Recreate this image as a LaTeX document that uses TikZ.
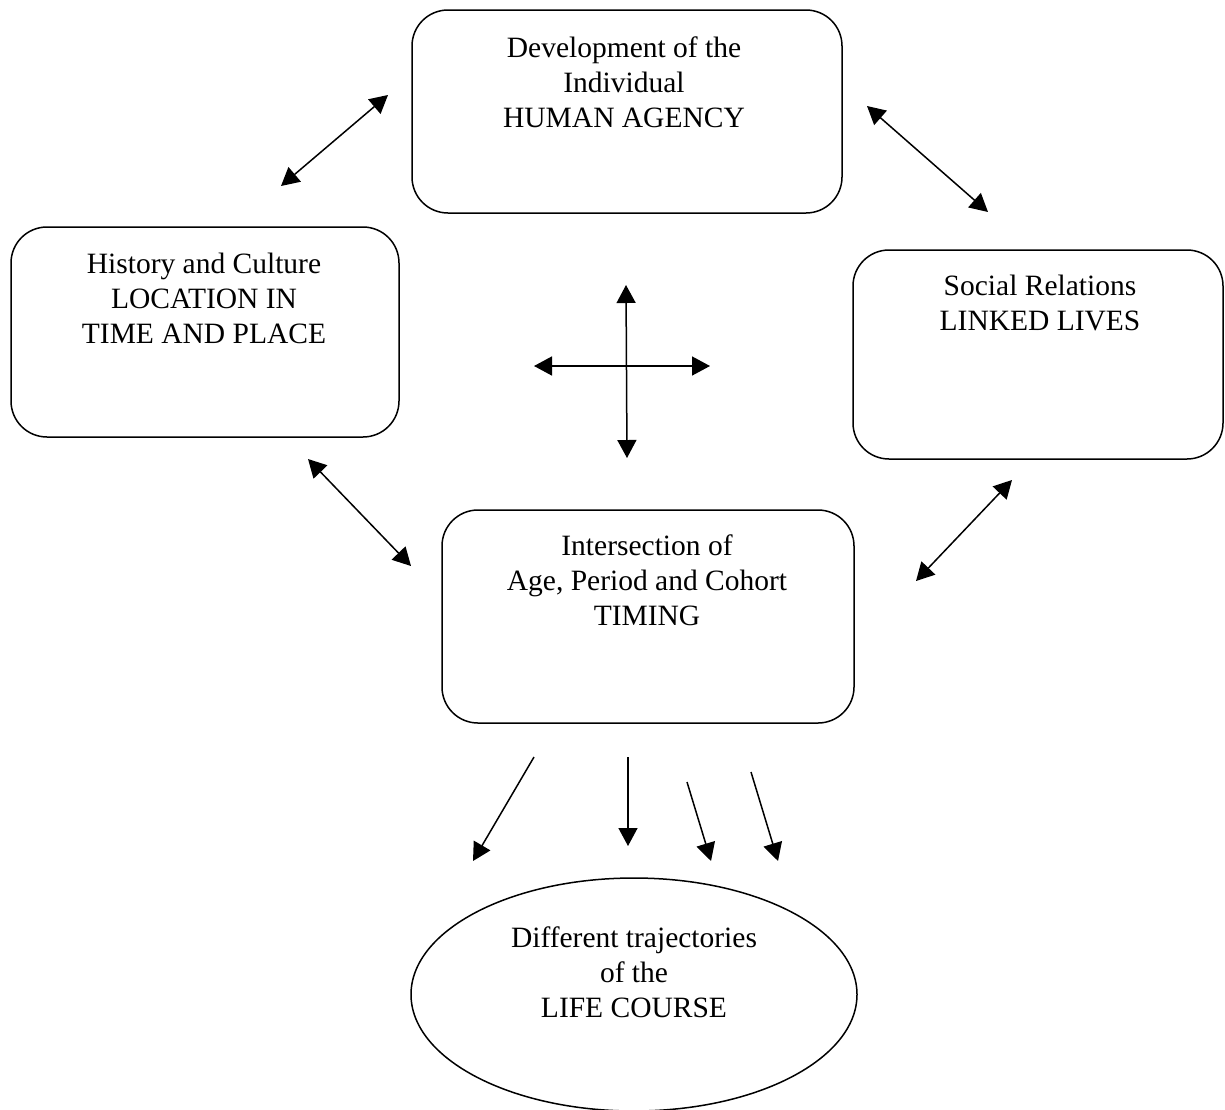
\documentclass[tikz,border=0pt]{standalone}
\usepackage{fontspec}
\setmainfont{Liberation Serif}
\usetikzlibrary{arrows.meta,shapes.geometric}
\begin{document}
\begin{tikzpicture}[x=1pt,y=-1pt,
  box/.style={draw, line width=1.5, rounded corners=36, inner sep=0, minimum width=#1},
  oval/.style={draw, line width=1.5, ellipse, inner sep=0},
  txt/.style={anchor=north, align=center, inner sep=0, font=\fontsize{29.5}{35}\selectfont},
  link/.style={line width=1.5, {Triangle[length=18,width=19]}-{Triangle[length=18,width=19]}},
  flow/.style={line width=1.5, -{Triangle[length=18,width=19]}}]
\useasboundingbox (0,0) rectangle (1225,1109);
\fill[white] (0,0) rectangle (1225,1109);
% boxes
\node[box=430, minimum height=203] (agency) at (627,111.5) {};
\node[box=388, minimum height=210] (history) at (205,332) {};
\node[box=370, minimum height=209] (social) at (1038,354.5) {};
\node[box=412, minimum height=213] (timing) at (648,616.5) {};
\node[oval, minimum width=446, minimum height=233] (life) at (634,994.5) {};
% texts
\node[txt] (agencyT) at (624,37) {Development of the\\Individual\\HUMAN AGENCY};
\node[txt] (historyT) at (204,253) {History and Culture\\LOCATION IN\\TIME AND PLACE};
\node[txt] (socialT) at (1040,275) {Social Relations\\LINKED LIVES};
\node[txt] (timingT) at (647,535) {Intersection of\\Age, Period and Cohort\\TIMING};
\node[txt] (lifeT) at (634,927) {Different trajectories\\of the\\LIFE COURSE};
% arrow end points
\coordinate (a1) at (388,95);   \coordinate (a2) at (281,186);
\coordinate (b1) at (867,106);  \coordinate (b2) at (988,212);
\coordinate (c1) at (626,285);  \coordinate (c2) at (627,458);
\coordinate (d1) at (534,366);  \coordinate (d2) at (710,366);
\coordinate (e1) at (308,459);  \coordinate (e2) at (411,566);
\coordinate (f1) at (1012,480); \coordinate (f2) at (916,581);
\coordinate (g1) at (534,757);  \coordinate (g2) at (473,861);
\coordinate (h1) at (628,757);  \coordinate (h2) at (628,846);
\coordinate (i1) at (687,782);  \coordinate (i2) at (711,861);
\coordinate (j1) at (751,772);  \coordinate (j2) at (778,861);
% two-headed arrows
\draw[link] (a1) -- (a2);
\draw[link] (b1) -- (b2);
\draw[link] (c1) -- (c2);
\draw[link] (d1) -- (d2);
\draw[link] (e1) -- (e2);
\draw[link] (f1) -- (f2);
% arrows to the life course
\draw[flow] (g1) -- (g2);
\draw[flow] (h1) -- (h2);
\draw[flow] (i1) -- (i2);
\draw[flow] (j1) -- (j2);
\end{tikzpicture}
\end{document}
